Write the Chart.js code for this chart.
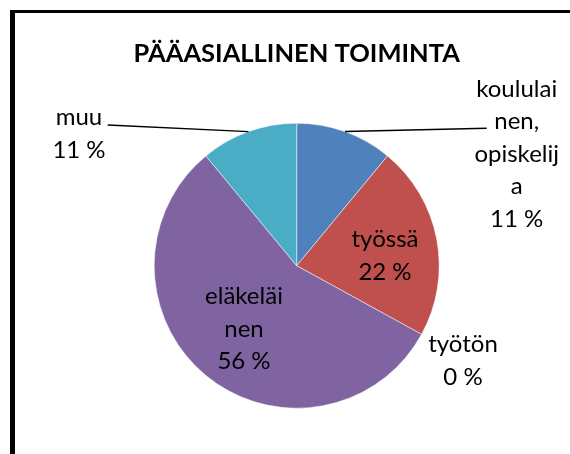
<!DOCTYPE html>
<html>
<head>
<meta charset="utf-8">
<script src="https://cdn.jsdelivr.net/npm/chart.js@4"></script>
<style>
  body { margin: 0; background: #fff; }
  #wrap { position: relative; width: 570px; height: 454px; overflow: hidden; }
  #frame {
    position: absolute; left: 10px; top: 10px; width: 600px; height: 500px;
    border-left: 5px solid #000; border-top: 3px solid #000;
  }
  canvas { position: absolute; left: 0; top: 0; }
</style>
</head>
<body>
<div id="wrap">
  <div id="frame"></div>
  <canvas id="chart" width="570" height="454"></canvas>
</div>
<script>
// Données du graphique
const chartTitle = 'PÄÄASIALLINEN TOIMINTA';
const categories = ['koululainen, opiskelija', 'työssä', 'työtön', 'eläkeläinen', 'muu'];
// libellés coupés comme dans l'original
const labelLines = [['koululai', 'nen,', 'opiskelij', 'a'], ['työssä'], ['työtön'], ['eläkeläi', 'nen'], ['muu']];
const percentages = [11, 22, 0, 56, 11];
const sliceColors = ['#4F81BD', '#C0504D', '#9BBB59', '#8064A2', '#4BACC6'];

// Placement des étiquettes (décalage par rapport au centre, en px)
const labelLayout = [
    { dx: 220, dy: -169, leader: { dx: 190, dy: -137.4 } },
    { dx: 88.3, dy: -18.4 },
    { dx: 166.3, dy: 86.6 },
    { dx: -52.7, dy: 38.6 },
    { dx: -217.7, dy: -140.7, leader: { dx: -189, dy: -140.7 } }
];

const labelPlugin = {
    id: 'pieLabels',
    afterDraw(chart) {
        const ctx = chart.ctx;
        const meta = chart.getDatasetMeta(0);
        const cx = meta.data[0].x;
        const cy = meta.data[0].y;
        ctx.save();
        ctx.fillStyle = '#000';
        ctx.textAlign = 'center';
        ctx.textBaseline = 'alphabetic';

        // Titre
        ctx.font = 'bold 25.5px Lato';
        ctx.fillText(chartTitle, cx, 62);

        // Étiquettes + lignes de rappel
        ctx.font = '24px Lato';
        const lineH = 32.5;
        meta.data.forEach((arc, i) => {
            const lay = labelLayout[i];
            const lines = labelLines[i].concat([percentages[i] + ' %']);
            lines.forEach((txt, j) => {
                ctx.fillText(txt, cx + lay.dx, cy + lay.dy + j * lineH);
            });
            if (lay.leader) {
                const mid = (arc.startAngle + arc.endAngle) / 2;
                ctx.beginPath();
                ctx.strokeStyle = '#000';
                ctx.lineWidth = 1.5;
                ctx.moveTo(cx + lay.leader.dx, cy + lay.leader.dy);
                ctx.lineTo(cx + arc.outerRadius * Math.cos(mid), cy + arc.outerRadius * Math.sin(mid));
                ctx.stroke();
            }
        });
        ctx.restore();
    }
};

new Chart(document.getElementById('chart'), {
    type: 'pie',
    data: {
        labels: categories,
        datasets: [{
            data: percentages,
            backgroundColor: sliceColors,
            borderColor: 'rgba(255, 255, 255, 0.5)',
            borderWidth: 1,
            hoverOffset: 0
        }]
    },
    options: {
        responsive: false,
        devicePixelRatio: 1,
        animation: false,
        layout: {
            padding: { left: 153.7, right: 130.3, top: 122.7, bottom: 45.3 }
        },
        plugins: {
            legend: { display: false },
            title: { display: false },
            tooltip: { enabled: false }
        }
    },
    plugins: [labelPlugin]
});
</script>
</body>
</html>
